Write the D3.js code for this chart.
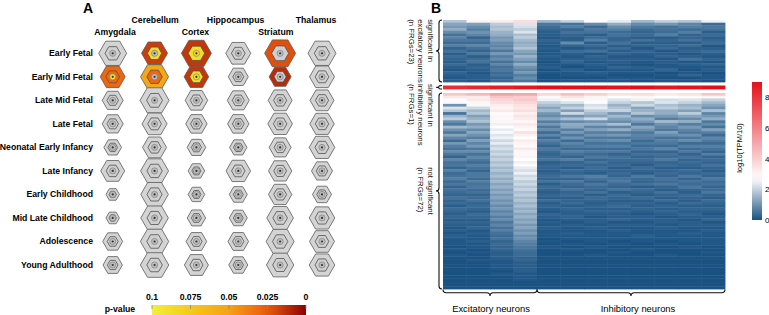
<!DOCTYPE html>
<html>
<head>
<meta charset="utf-8">
<script src="https://cdn.jsdelivr.net/npm/d3@7"></script>
<style>
  body { margin: 0; background: #fff; }
  svg { display: block; font-family: "Liberation Sans", Arial, sans-serif; }
  .bold { font-weight: bold; }
</style>
</head>
<body>
<svg></svg>
<script>
var N = null;
// ---- panel A data ----
var regions = ["Amygdala", "Cerebellum", "Cortex", "Hippocampus", "Striatum", "Thalamus"];
var stages = ["Early Fetal", "Early Mid Fetal", "Late Mid Fetal", "Late Fetal", "Neonatal Early Infancy",
  "Late Infancy", "Early Childhood", "Mid Late Childhood", "Adolescence", "Young Adulthood"];
// relative hexagon size per stage x region
var hexSize = [
  [1.40, 1.30, 1.50, 1.25, 1.55, 1.40],
  [1.25, 1.40, 1.23, 1.00, 1.10, 1.25],
  [1.05, 1.45, 1.13, 1.10, 1.20, 1.20],
  [1.05, 1.25, 1.07, 1.07, 1.23, 1.22],
  [0.88, 1.20, 0.93, 0.87, 1.10, 1.28],
  [1.20, 1.40, 0.83, 1.23, 1.17, 1.05],
  [0.67, 1.38, 0.83, 0.90, 1.17, 0.95],
  [0.67, 1.38, 0.92, 0.90, 1.33, 1.28],
  [1.00, 1.42, 1.03, 1.03, 1.40, 1.25],
  [0.97, 1.42, 1.20, 0.95, 1.37, 1.28]
];
// p-values (null = not significant, p > 0.1)
var outerP = [
  [N, 0.017, 0.015, N, 0.022, N],
  [0.030, 0.054, 0.015, N, 0.012, N],
  [N, N, N, N, N, N], [N, N, N, N, N, N], [N, N, N, N, N, N],
  [N, N, N, N, N, N], [N, N, N, N, N, N], [N, N, N, N, N, N],
  [N, N, N, N, N, N], [N, N, N, N, N, N]
];
var innerP = [
  [N, 0.088, 0.088, N, N, N],
  [0.030, 0.030, 0.088, N, N, N],
  [N, N, N, N, N, N], [N, N, N, N, N, N], [N, N, N, N, N, N],
  [N, N, N, N, N, N], [N, N, N, N, N, N], [N, N, N, N, N, N],
  [N, N, N, N, N, N], [N, N, N, N, N, N]
];
var centerP = [
  [N, N, 0.088, N, N, N],
  [0.090, N, 0.088, N, N, N],
  [N, N, N, N, N, N], [N, N, N, N, N, N], [N, N, N, N, N, N],
  [N, N, N, N, N, N], [N, N, N, N, N, N], [N, N, N, N, N, N],
  [N, N, N, N, N, N], [N, N, N, N, N, N]
];
var pTicks = [0.1, 0.075, 0.05, 0.025, 0];

// ---- panel B data: log10(TPM/10), columns = 4 excitatory + 8 inhibitory neuron types ----
var cellTypes = ["Exc1", "Exc2", "Exc3", "Exc4", "Inh1", "Inh2", "Inh3", "Inh4", "Inh5", "Inh6", "Inh7", "Inh8"];
var neuronGroups = [
  { name: "Excitatory neurons", types: ["Exc1", "Exc2", "Exc3", "Exc4"] },
  { name: "Inhibitory neurons", types: ["Inh1", "Inh2", "Inh3", "Inh4", "Inh5", "Inh6", "Inh7", "Inh8"] }
];
var sigExcitatory = [
  [1.8,3.0,3.2,3.6, 1.6,2.0,2.8,2.4,1.6,2.0,1.8,2.5],
  [1.3,1.2,1.9,2.3, 0.6,0.5,0.9,1.4,0.9,1.1,0.8,0.4],
  [1.1,0.9,1.7,2.2, 0.4,0.7,0.4,0.9,0.6,0.5,0.7,0.6],
  [1.4,0.7,1.8,1.9, 0.3,0.3,0.6,0.7,0.4,0.5,0.4,0.5],
  [0.9,1.0,1.5,2.3, 0.2,0.5,0.5,0.4,0.3,0.4,0.7,0.2],
  [0.5,0.8,1.4,1.7, 0.2,0.3,0.2,0.5,0.4,0.7,0.3,0.4],
  [0.8,0.3,1.1,1.9, 0.1,0.2,0.4,0.3,0.2,0.2,0.3,0.2],
  [0.6,0.6,1.2,1.6, 0.3,0.2,0.7,0.3,0.5,0.3,0.5,0.3],
  [0.4,0.4,0.9,1.4, 0.2,0.9,0.2,0.5,0.2,0.2,0.2,0.4],
  [0.7,0.8,0.8,1.5, 0.1,0.3,0.4,0.2,0.3,0.3,0.4,0.1],
  [0.3,0.5,1.0,1.8, 0.2,0.1,0.2,0.4,0.1,0.4,0.2,0.2],
  [0.5,0.3,0.6,1.3, 0.1,0.4,0.5,0.2,0.3,0.1,0.3,0.4],
  [0.2,0.6,1.1,1.1, 0.1,0.2,0.1,0.3,0.2,0.2,0.1,0.2],
  [0.4,0.2,0.7,1.5, 0.2,0.1,0.3,0.1,0.1,0.3,0.2,0.1],
  [0.3,0.4,0.9,1.2, 0.1,0.2,0.2,0.2,0.2,0.1,0.5,0.3],
  [0.2,0.5,0.5,0.9, 0.0,0.3,0.1,0.2,0.1,0.2,0.1,0.1],
  [0.4,0.2,0.8,1.4, 0.1,0.1,0.2,0.1,0.0,0.1,0.2,0.3],
  [0.2,0.3,0.5,1.0, 0.2,0.0,0.1,0.3,0.2,0.1,0.1,0.1],
  [0.1,0.2,0.6,0.8, 0.0,0.2,0.0,0.1,0.1,0.3,0.0,0.2],
  [0.3,0.1,0.4,1.1, 0.1,0.1,0.2,0.1,0.1,0.0,0.1,0.0],
  [0.2,0.2,0.5,0.7, 0.0,0.1,0.1,0.0,0.0,0.1,0.3,0.1],
  [0.1,0.2,0.3,0.9, 0.0,0.0,0.0,0.1,0.1,0.0,0.0,0.1],
  [0.2,0.1,0.4,0.6, 0.0,0.1,0.1,0.1,0.0,0.1,0.1,0.0]
];
var sigInhibitory = [
  [8.2,8.4,8.6,8.8, 9.0,9.0,9.0,8.9,9.0,8.8,8.9,9.0]
];
var notSignificant = [
  [4.2,4.6,5.2,5.0, 3.8,4.4,4.0,3.5,3.6,3.3,3.5,4.2],
  [3.3,3.2,4.2,4.0, 2.8,3.4,3.0,2.7,2.9,2.7,2.8,3.0],
  [2.8,3.3,3.8,4.1, 2.5,2.6,2.6,2.3,2.5,2.2,2.3,2.0],
  [2.6,2.9,3.6,3.8, 2.0,2.3,2.8,2.0,1.8,2.3,2.0,1.6],
  [1.0,2.6,3.2,3.5, 1.7,1.6,2.2,1.5,2.1,1.7,1.5,1.3],
  [2.3,2.1,3.0,3.3, 1.3,2.0,2.4,1.8,1.3,1.9,1.7,1.0],
  [1.8,1.6,3.3,3.6, 1.6,1.2,1.9,2.0,1.5,1.4,1.2,1.7],
  [0.5,1.8,2.8,3.1, 1.1,2.1,1.6,1.1,1.8,1.4,1.9,0.8],
  [1.5,1.2,2.9,3.4, 0.9,1.0,1.3,1.6,0.9,1.1,1.3,1.1],
  [1.9,1.5,2.6,3.2, 1.3,1.7,2.1,1.2,1.4,0.7,0.9,1.4],
  [0.9,1.7,3.0,2.9, 0.7,0.9,1.0,0.9,1.1,1.6,1.4,0.6],
  [0.6,1.1,2.5,3.3, 1.1,1.4,1.4,1.7,0.6,1.0,0.7,0.9],
  [1.6,1.4,2.7,3.0, 0.6,1.3,0.8,0.8,1.3,0.8,1.1,0.5],
  [1.0,0.9,2.4,2.8, 0.9,0.7,1.2,1.4,1.0,0.6,0.8,1.2],
  [0.6,1.3,2.6,3.5, 0.4,1.1,0.7,0.7,0.6,1.2,0.6,0.7],
  [1.3,1.0,2.3,3.1, 0.8,0.6,1.0,1.1,0.8,0.9,1.0,0.4],
  [0.8,0.7,2.5,2.7, 0.4,1.0,0.6,0.6,0.7,0.5,0.6,0.8],
  [0.4,1.2,2.1,3.2, 0.7,0.4,0.8,0.9,0.4,0.7,0.9,0.6],
  [1.1,0.8,2.4,3.0, 0.5,0.8,0.5,0.5,0.6,0.6,0.4,0.4],
  [0.7,1.1,2.0,2.8, 0.3,0.6,0.7,0.7,0.4,0.4,0.7,0.7],
  [0.5,0.6,2.2,3.3, 0.6,0.4,0.4,0.4,0.6,0.8,0.4,0.5],
  [0.9,0.9,1.9,2.9, 0.4,0.7,0.6,0.6,0.3,0.3,0.6,0.3],
  [0.6,0.5,2.1,2.6, 0.3,0.5,0.4,0.3,0.5,0.5,0.3,0.7],
  [0.3,0.8,1.8,3.0, 0.4,0.3,0.6,0.5,0.3,0.4,0.5,0.3],
  [0.8,0.6,2.0,2.7, 0.5,0.7,0.3,0.4,0.4,0.6,0.3,0.4],
  [0.5,0.4,1.7,2.5, 0.2,0.3,0.5,0.3,0.3,0.3,0.4,0.3],
  [0.6,0.7,1.9,2.8, 0.3,0.4,0.3,0.4,0.2,0.4,0.3,0.5],
  [0.3,0.5,1.6,2.4, 0.3,0.2,0.4,0.2,0.4,0.2,0.2,0.3],
  [0.7,0.3,1.8,2.2, 0.2,0.4,0.3,0.3,0.3,0.3,0.4,0.2],
  [0.4,0.6,1.5,2.5, 0.3,0.3,0.2,0.4,0.2,0.4,0.3,0.4],
  [0.5,0.6,1.7,2.1, 0.4,0.6,0.7,0.3,0.6,0.3,0.6,0.3],
  [0.7,0.4,1.4,2.3, 0.3,0.3,0.5,0.5,0.4,0.5,0.3,0.6],
  [0.4,0.7,1.6,1.9, 0.5,0.6,0.3,0.6,0.3,0.4,0.5,0.4],
  [0.6,0.5,1.3,2.1, 0.2,0.4,0.6,0.4,0.5,0.6,0.4,0.5],
  [0.3,0.6,1.5,1.8, 0.4,0.3,0.4,0.3,0.2,0.3,0.6,0.3],
  [0.5,0.4,1.2,2.0, 0.3,0.5,0.3,0.5,0.4,0.2,0.3,0.4],
  [0.4,0.5,1.4,1.7, 0.2,0.3,0.5,0.2,0.3,0.5,0.2,0.6],
  [0.3,0.3,1.1,1.9, 0.3,0.4,0.2,0.4,0.2,0.3,0.4,0.3],
  [0.5,0.4,1.3,1.6, 0.2,0.2,0.4,0.3,0.4,0.2,0.3,0.2],
  [0.3,0.5,1.0,1.8, 0.4,0.3,0.3,0.2,0.2,0.4,0.2,0.4],
  [0.4,0.3,1.2,1.5, 0.2,0.4,0.2,0.3,0.3,0.2,0.4,0.3],
  [0.2,0.4,0.9,1.7, 0.3,0.2,0.3,0.4,0.2,0.3,0.2,0.2],
  [0.4,0.3,1.1,1.4, 0.2,0.3,0.2,0.2,0.3,0.2,0.3,0.3],
  [0.3,0.2,0.8,1.6, 0.1,0.2,0.3,0.3,0.2,0.3,0.2,0.2],
  [0.2,0.4,1.0,1.3, 0.3,0.2,0.2,0.2,0.1,0.2,0.3,0.1],
  [0.3,0.3,0.7,1.5, 0.2,0.3,0.1,0.2,0.2,0.1,0.2,0.2],
  [0.2,0.2,0.9,1.2, 0.1,0.2,0.2,0.3,0.2,0.2,0.1,0.3],
  [0.3,0.3,0.6,1.4, 0.2,0.1,0.2,0.1,0.1,0.2,0.2,0.1],
  [0.2,0.2,0.8,1.1, 0.1,0.2,0.1,0.2,0.2,0.1,0.2,0.2],
  [0.1,0.3,0.5,1.3, 0.2,0.1,0.2,0.1,0.1,0.2,0.1,0.1],
  [0.2,0.1,0.7,1.0, 0.1,0.1,0.1,0.2,0.1,0.1,0.1,0.2],
  [0.1,0.2,0.5,1.2, 0.1,0.2,0.1,0.1,0.1,0.1,0.2,0.1],
  [0.2,0.1,0.4,0.9, 0.1,0.1,0.1,0.1,0.2,0.1,0.1,0.1],
  [0.1,0.1,0.5,1.0, 0.0,0.1,0.1,0.1,0.1,0.1,0.1,0.1],
  [0.1,0.2,0.3,0.8, 0.1,0.0,0.1,0.0,0.1,0.0,0.1,0.1],
  [0.1,0.1,0.4,0.7, 0.0,0.1,0.0,0.1,0.0,0.1,0.0,0.1],
  [0.0,0.1,0.3,0.6, 0.1,0.0,0.1,0.0,0.0,0.0,0.1,0.0],
  [0.1,0.0,0.3,0.5, 0.0,0.1,0.0,0.0,0.1,0.0,0.0,0.0],
  [0.0,0.1,0.2,0.4, 0.0,0.0,0.0,0.1,0.0,0.0,0.0,0.1],
  [0.1,0.0,0.2,0.4, 0.0,0.0,0.1,0.0,0.0,0.1,0.0,0.0],
  [0.0,0.0,0.2,0.3, 0.0,0.0,0.0,0.0,0.0,0.0,0.0,0.0],
  [0.0,0.1,0.1,0.3, 0.0,0.0,0.0,0.0,0.0,0.0,0.0,0.0],
  [0.0,0.0,0.1,0.2, 0.0,0.0,0.0,0.0,0.0,0.0,0.0,0.0],
  [0.0,0.0,0.1,0.2, 0.0,0.0,0.0,0.0,0.0,0.0,0.0,0.0],
  [0.0,0.0,0.1,0.2, 0.0,0.0,0.0,0.0,0.0,0.0,0.0,0.0],
  [0.0,0.0,0.0,0.2, 0.0,0.0,0.0,0.0,0.0,0.0,0.0,0.0],
  [0.0,0.0,0.1,0.1, 0.0,0.0,0.0,0.0,0.0,0.0,0.0,0.0],
  [0.0,0.0,0.0,0.1, 0.0,0.0,0.0,0.0,0.0,0.0,0.0,0.0],
  [0.0,0.0,0.0,0.1, 0.0,0.0,0.0,0.0,0.0,0.0,0.0,0.0],
  [0.0,0.0,0.0,0.0, 0.0,0.0,0.0,0.0,0.0,0.0,0.0,0.0],
  [0.0,0.0,0.0,0.0, 0.0,0.0,0.0,0.0,0.0,0.0,0.0,0.0],
  [0.0,0.0,0.0,0.0, 0.0,0.0,0.0,0.0,0.0,0.0,0.0,0.0]
];
var blockLabels = [
  ["significant in", "excitatory neurons", "(n FRGs=23)"],
  ["significant in", "inhibitory neurons", "(n FRGs=1)"],
  ["not significant", "(n FRGs=72)"]
];
var tpmTicks = [0, 2, 4, 6, 8];

var svg = d3.select("svg").attr("width", 769).attr("height", 315);
var defs = svg.append("defs");

// ================= Panel A =================
var xA = d3.scalePoint().domain(regions).range([112.7, 322]);
var xHead = d3.scalePoint().domain(regions).range([115, 316]);
var yA = d3.scalePoint().domain(stages).range([53.3, 265]);
var rScale = d3.scaleLinear().domain([0, 1]).range([0, 10]);
var pColor = d3.scaleLinear()
  .domain([0, 0.025, 0.05, 0.075, 0.1])
  .range(["#8b0000", "#ec5a0e", "#f5a214", "#f6c81c", "#f2ee3a"]);
var grey = "#d4d4d4";

function hexPath(r) {
  var pts = d3.range(6).map(i => [r * Math.cos(i * Math.PI / 3), r * Math.sin(i * Math.PI / 3)]);
  return d3.line()(pts) + "Z";
}

svg.append("text").attr("class", "bold").attr("x", 88).attr("y", 13)
  .attr("text-anchor", "middle").style("font-size", "14px").text("A");

svg.append("g").selectAll("text").data(regions).join("text")
  .attr("class", "bold")
  .attr("x", d => xHead(d))
  .attr("y", (d, i) => i % 2 ? 23 : 35)
  .attr("text-anchor", "middle")
  .style("font-size", "8.7px")
  .text(d => d);

svg.append("g").selectAll("text").data(stages).join("text")
  .attr("class", "bold")
  .attr("x", 93)
  .attr("y", d => yA(d) + 3)
  .attr("text-anchor", "end")
  .style("font-size", "8.7px")
  .text(d => d);

var cells = [];
stages.forEach((s, i) => regions.forEach((g, j) => {
  cells.push({ stage: s, region: g, size: hexSize[i][j], po: outerP[i][j], pi: innerP[i][j], pc: centerP[i][j] });
}));

var cell = svg.append("g").selectAll("g").data(cells).join("g")
  .attr("transform", d => "translate(" + xA(d.region) + "," + yA(d.stage) + ")");
cell.append("path")
  .attr("d", d => hexPath(rScale(d.size)))
  .attr("fill", d => d.po == null ? grey : pColor(d.po))
  .attr("stroke", "#5a5a5a").attr("stroke-width", 0.8);
cell.append("path")
  .attr("d", d => hexPath(rScale(d.size) * 0.55))
  .attr("fill", d => d.pi == null ? "#cfcfcf" : pColor(d.pi))
  .attr("stroke", "#505050").attr("stroke-width", 0.8);
cell.append("circle")
  .attr("r", 3.1)
  .attr("fill", d => d.pc == null ? "#bdbdbd" : pColor(d.pc))
  .attr("stroke", "#777").attr("stroke-width", 0.6);
cell.append("circle").attr("r", 1.1).attr("fill", "#333");

// p-value legend
var xP = d3.scaleLinear().domain([0.1, 0]).range([152, 306]);
var gradA = defs.append("linearGradient").attr("id", "gradA");
d3.range(0, 11).forEach(k => {
  gradA.append("stop").attr("offset", (k * 10) + "%").attr("stop-color", pColor(0.1 - k * 0.01));
});
svg.append("rect").attr("x", xP(0.1)).attr("y", 305).attr("width", xP(0) - xP(0.1)).attr("height", 12)
  .attr("fill", "url(#gradA)");
svg.append("g").selectAll("line").data(pTicks).join("line")
  .attr("x1", d => xP(d)).attr("x2", d => xP(d)).attr("y1", 305).attr("y2", 309)
  .attr("stroke", "#888").attr("stroke-width", 0.8);
svg.append("g").selectAll("text").data(pTicks).join("text")
  .attr("class", "bold")
  .attr("x", d => xP(d)).attr("y", 299.5)
  .attr("text-anchor", "middle").style("font-size", "8.7px")
  .text(d => d);
svg.append("text").attr("class", "bold").attr("x", 120).attr("y", 312)
  .attr("text-anchor", "middle").style("font-size", "8.7px").text("p-value");

// ================= Panel B =================
svg.append("text").attr("class", "bold").attr("x", 436).attr("y", 13)
  .attr("text-anchor", "middle").style("font-size", "14px").text("B");

var xB = d3.scaleBand().domain(cellTypes).range([443, 725]);
var tpmColor = d3.scaleLinear().domain([0, 2.7, 9])
  .range(["#1a5282", "#ffffff", "#e60f18"]).clamp(true);

var blocks = [
  { rows: sigExcitatory, y0: 20, y1: 82 },
  { rows: sigInhibitory, y0: 85.5, y1: 89 },
  { rows: notSignificant, y0: 93, y1: 289 }
];

function vBrace(x, y0, y1, d) {
  var ym = (y0 + y1) / 2, h = d / 2;
  var k = Math.min(h, (y1 - y0) / 4);
  return "M" + x + "," + y0 +
    "Q" + (x - h) + "," + y0 + " " + (x - h) + "," + (y0 + k) +
    "L" + (x - h) + "," + (ym - k) +
    "Q" + (x - h) + "," + ym + " " + (x - d) + "," + ym +
    "Q" + (x - h) + "," + ym + " " + (x - h) + "," + (ym + k) +
    "L" + (x - h) + "," + (y1 - k) +
    "Q" + (x - h) + "," + y1 + " " + x + "," + y1;
}
function hBrace(y, x0, x1, d) {
  var xm = (x0 + x1) / 2, h = d / 2;
  return "M" + x0 + "," + y +
    "Q" + x0 + "," + (y + h) + " " + (x0 + h) + "," + (y + h) +
    "L" + (xm - h) + "," + (y + h) +
    "Q" + xm + "," + (y + h) + " " + xm + "," + (y + d) +
    "Q" + xm + "," + (y + h) + " " + (xm + h) + "," + (y + h) +
    "L" + (x1 - h) + "," + (y + h) +
    "Q" + x1 + "," + (y + h) + " " + x1 + "," + y;
}

blocks.forEach((b, bi) => {
  var yb = d3.scaleBand().domain(d3.range(b.rows.length)).range([b.y0, b.y1]);
  var g = svg.append("g");
  b.rows.forEach((row, ri) => {
    g.append("g").selectAll("rect").data(row).join("rect")
      .attr("x", (v, ci) => xB(cellTypes[ci]))
      .attr("y", yb(ri))
      .attr("width", xB.bandwidth() + 0.4)
      .attr("height", yb.bandwidth() + 0.4)
      .attr("fill", v => tpmColor(v));
  });
  svg.append("path").attr("d", vBrace(442, b.y0, b.y1, 6))
    .attr("fill", "none").attr("stroke", "#111").attr("stroke-width", 1.1);

  // left labels, rotated
  var lab = svg.append("g");
  var texts = lab.selectAll("text").data(blockLabels[bi]).join("text")
    .attr("x", 0).attr("y", (d, i) => i * 9.5)
    .style("font-size", "7.8px").attr("fill", "#111").text(d => d);
  var longest = d3.max(texts.nodes(), n => n.getComputedTextLength());
  var start = Math.max(b.y0 - 1.5, (b.y0 + b.y1) / 2 - longest / 2);
  lab.attr("transform", "translate(427.5," + start + ") rotate(90)");
});

// bottom braces + group labels
neuronGroups.forEach((grp, gi) => {
  var x0 = xB(grp.types[0]);
  var x1 = xB(grp.types[grp.types.length - 1]) + xB.bandwidth();
  svg.append("path").attr("d", hBrace(289.5, x0, x1, 6.5))
    .attr("fill", "none").attr("stroke", "#111").attr("stroke-width", 1.1);
  svg.append("text")
    .attr("x", (x0 + x1) / 2 + (gi === 1 ? 7 : 1))
    .attr("y", 311.5)
    .attr("text-anchor", "middle").style("font-size", "9.4px")
    .text(grp.name);
});

// colour bar
var yC = d3.scaleLinear().domain([0, 9]).range([220, 82]);
var gradB = defs.append("linearGradient").attr("id", "gradB")
  .attr("x1", 0).attr("y1", 1).attr("x2", 0).attr("y2", 0);
d3.range(0, 19).forEach(k => {
  gradB.append("stop").attr("offset", (k / 18 * 100) + "%").attr("stop-color", tpmColor(k * 0.5));
});
svg.append("rect").attr("x", 752).attr("y", yC(9)).attr("width", 10).attr("height", yC(0) - yC(9))
  .attr("fill", "url(#gradB)");
svg.append("g").selectAll("text").data(tpmTicks).join("text")
  .attr("x", 765).attr("y", d => yC(d) + 3)
  .style("font-size", "8px").text(d => d);
svg.append("text")
  .attr("transform", "translate(742,148) rotate(-90)")
  .attr("text-anchor", "middle").style("font-size", "7.5px")
  .text("log10(TPM/10)");
</script>
</body>
</html>
